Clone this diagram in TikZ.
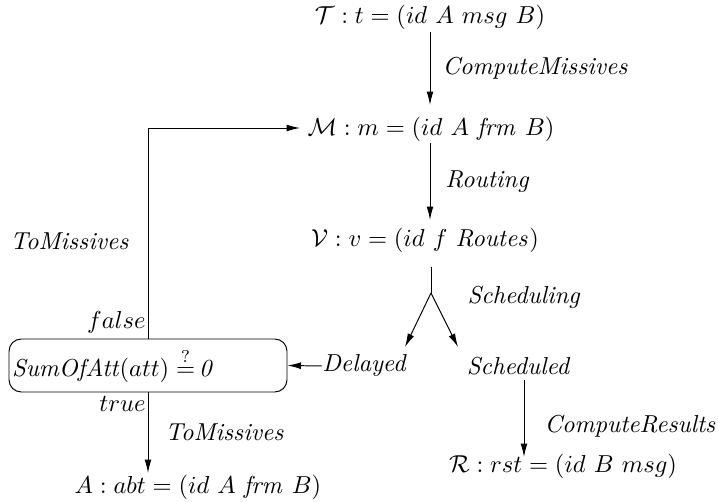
\documentclass[tikz,border=0pt]{standalone}
\usetikzlibrary{arrows.meta}
\begin{document}
\begin{tikzpicture}[x=0.408pt,y=-0.408pt,
  lbl/.style={inner sep=0pt,font=\itshape},
  txt/.style={inner sep=0pt},
  arr/.style={-{Latex[length=5.5pt,width=2.8pt]},line width=0.4pt},
  ln/.style={line width=0.4pt},
  cond/.style={draw,rounded corners=5pt,text width=272*0.408pt,align=left,minimum height=53*0.408pt,inner xsep=3*0.408pt,inner ysep=0pt,line width=0.4pt}]
\useasboundingbox (0,0) rectangle (718,502);
\node[txt] (T) at (430,17) {$\mathcal{T} : t = (id\ A\ msg\ B)$};
\node[txt] (M) at (431,129) {$\mathcal{M} : m = (id\ A\ \mathit{frm}\ B)$};
\node[txt] (V) at (425,240) {$\mathcal{V} : v = (id\ f\ \mathit{Routes})$};
\coordinate (fork) at (431,293);
\node[lbl] (del) at (364,366) {Delayed};
\node[lbl] (sch) at (518,366) {Scheduled};
\node[cond] (box) at (148,365.5) {\textit{SumOfAtt}$(att)\stackrel{?}{=}$\,\textit{0}};
\node[txt] (A) at (198,487) {$A : abt = (id\ A\ \mathit{frm}\ B)$};
\node[txt] (R) at (563,466) {$\mathcal{R} : rst = (id\ B\ msg)$};
\coordinate (mtip) at (300,128);
\coordinate (corner) at (148,128);
\coordinate (vtop) at (431,267);
\coordinate (ltip) at (405,347);
\coordinate (rtip) at (458,347);

\draw[arr] (430,32) -- node[lbl,anchor=west,xshift=12*0.408pt] (l1) {ComputeMissives} (430,105);
\draw[arr] (430,143) -- node[lbl,anchor=west,xshift=15*0.408pt] (l2) {Routing} (430,220);
\draw[ln] (vtop) -- (fork);
\draw[arr] (fork) -- (ltip);
\draw[arr] (fork) -- (rtip);
\node[lbl,anchor=west] (l3) at (467,297) {Scheduling};
\draw[arr] (del.west) -- (box.east);
\draw[arr] (box.north) -- (corner) -- (mtip);
\node[lbl,anchor=west] (l4) at (10,241) {ToMissives};
\node[lbl,anchor=south east] (lf) at (146,334) {$false$};
\node[lbl,anchor=north east] (lt) at (146,396) {$true$};
\draw[arr] (box.south) -- node[lbl,anchor=west,xshift=17*0.408pt] (l5) {ToMissives} (148,473);
\draw[arr] (524,380) -- node[lbl,anchor=west,xshift=20*0.408pt,yshift=-8*0.408pt] (l6) {ComputeResults} (524,457);
\end{tikzpicture}
\end{document}
